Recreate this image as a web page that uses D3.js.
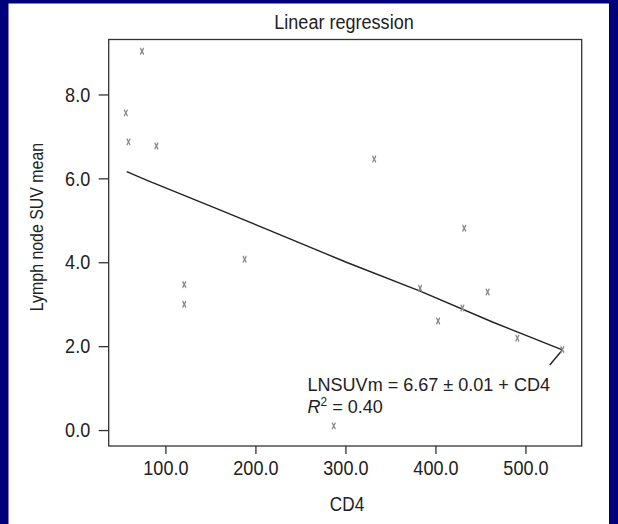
<!DOCTYPE html>
<html>
<head>
<meta charset="utf-8">
<script src="https://cdn.jsdelivr.net/npm/d3@7"></script>
<style>
  html, body { margin: 0; padding: 0; background: #00007a; }
  svg { display: block; font-family: "Liberation Sans", Arial, Helvetica, sans-serif; }
</style>
</head>
<body>
<div id="chart"></div>
<script>
// CD4 count vs lymph node SUV mean
var cd4 = [74, 56, 59, 90, 121, 121, 188, 332, 432, 383, 458, 430, 403, 491, 541, 287];
var suv = [9.03, 7.56, 6.87, 6.77, 3.47, 3.00, 4.07, 6.46, 4.81, 3.38, 3.29, 2.91, 2.60, 2.19, 1.92, 0.10];

// the drawn regression line (hand drawn, ends with a short hook)
var fitX = [57, 79, 157, 227, 301, 383, 464, 541, 527];
var fitY = [6.16, 5.96, 5.28, 4.66, 4.00, 3.31, 2.57, 1.91, 1.55];

var xTicks = [100, 200, 300, 400, 500];
var yTicks = [0, 2, 4, 6, 8];

var W = 618, H = 524,
  margin = {top: 39.5, right: 36.3, bottom: 78, left: 108.7},
  w = W - margin.left - margin.right,
  h = H - margin.top - margin.bottom,
  squeeze = 0.86;   // the original type is a narrow Helvetica

var svg = d3.select("#chart").append("svg")
  .attr("width", W)
  .attr("height", H);

// white slide panel
svg.append("rect")
  .attr("x", 8.5).attr("y", 3.5)
  .attr("width", 600.5).attr("height", H - 3.5)
  .attr("fill", "#fff");

var x = d3.scaleLinear().domain([37, 562.5]).range([0, w]),
  y = d3.scaleLinear().domain([-0.38, 9.31]).range([h, 0]);

var g = svg.append("g")
  .attr("transform", "translate(" + margin.left + "," + margin.top + ")");

var xAxis = g.append("g")
  .attr("transform", "translate(0," + h + ")")
  .call(d3.axisBottom(x).tickValues(xTicks).tickFormat(d3.format(".1f")).tickSize(8).tickPadding(6));

var yAxis = g.append("g")
  .call(d3.axisLeft(y).tickValues(yTicks).tickFormat(d3.format(".1f")).tickSize(10).tickPadding(8));

[xAxis, yAxis].forEach(function(a) {
  a.select(".domain").remove();
  a.selectAll("line").attr("stroke", "#333").attr("stroke-width", 1.3);
  a.selectAll("text")
    .attr("fill", "#222")
    .attr("transform", "scale(" + squeeze + ",1)")
    .style("font-size", "21px")
    .style("font-family", null);
});
yAxis.selectAll("text").attr("x", -18.5 / squeeze);

// frame
g.append("rect")
  .attr("width", w).attr("height", h)
  .attr("fill", "none")
  .attr("stroke", "#333")
  .attr("stroke-width", 1.3);

// regression line
var line = d3.line()
  .x(function(d) { return x(d[0]); })
  .y(function(d) { return y(d[1]); });

g.append("path")
  .datum(d3.zip(fitX, fitY))
  .attr("d", line)
  .attr("fill", "none")
  .attr("stroke", "#222")
  .attr("stroke-width", 1.4)
  .attr("stroke-linejoin", "round");

// markers
var sym = d3.symbol().type(d3.symbolX).size(14);
g.selectAll(".pt")
  .data(d3.zip(cd4, suv))
  .enter().append("path")
  .attr("class", "pt")
  .attr("d", sym)
  .attr("transform", function(d) {
    return "translate(" + x(d[0]) + "," + y(d[1]) + ") scale(0.8,1.5)";
  })
  .attr("fill", "none")
  .attr("stroke", "#888")
  .attr("stroke-width", 1.3);

function label(px, py, size, rot, sx) {
  return svg.append("g")
    .attr("transform", "translate(" + px + "," + py + ")" + (rot ? " rotate(" + rot + ")" : ""))
    .append("text")
    .attr("transform", "scale(" + (sx || squeeze) + ",1)")
    .attr("fill", "#222")
    .style("font-size", size + "px");
}

// equation
label(307.5, 390.5, 19, 0, 0.95).text("LNSUVm = 6.67 \u00b1 0.01 + CD4");

var r2 = label(307.5, 412.5, 19, 0, 0.95);
r2.append("tspan").style("font-style", "italic").text("R");
r2.append("tspan").attr("dy", -7).style("font-size", "12.5px").text("2");
r2.append("tspan").attr("dy", 7).text(" = 0.40");

// titles
label(344, 29, 21).attr("text-anchor", "middle").text("Linear regression");
label(347, 511, 20).attr("text-anchor", "middle").text("CD4");
label(43, 227, 18.5, -90).attr("text-anchor", "middle").text("Lymph node SUV mean");
</script>
</body>
</html>
